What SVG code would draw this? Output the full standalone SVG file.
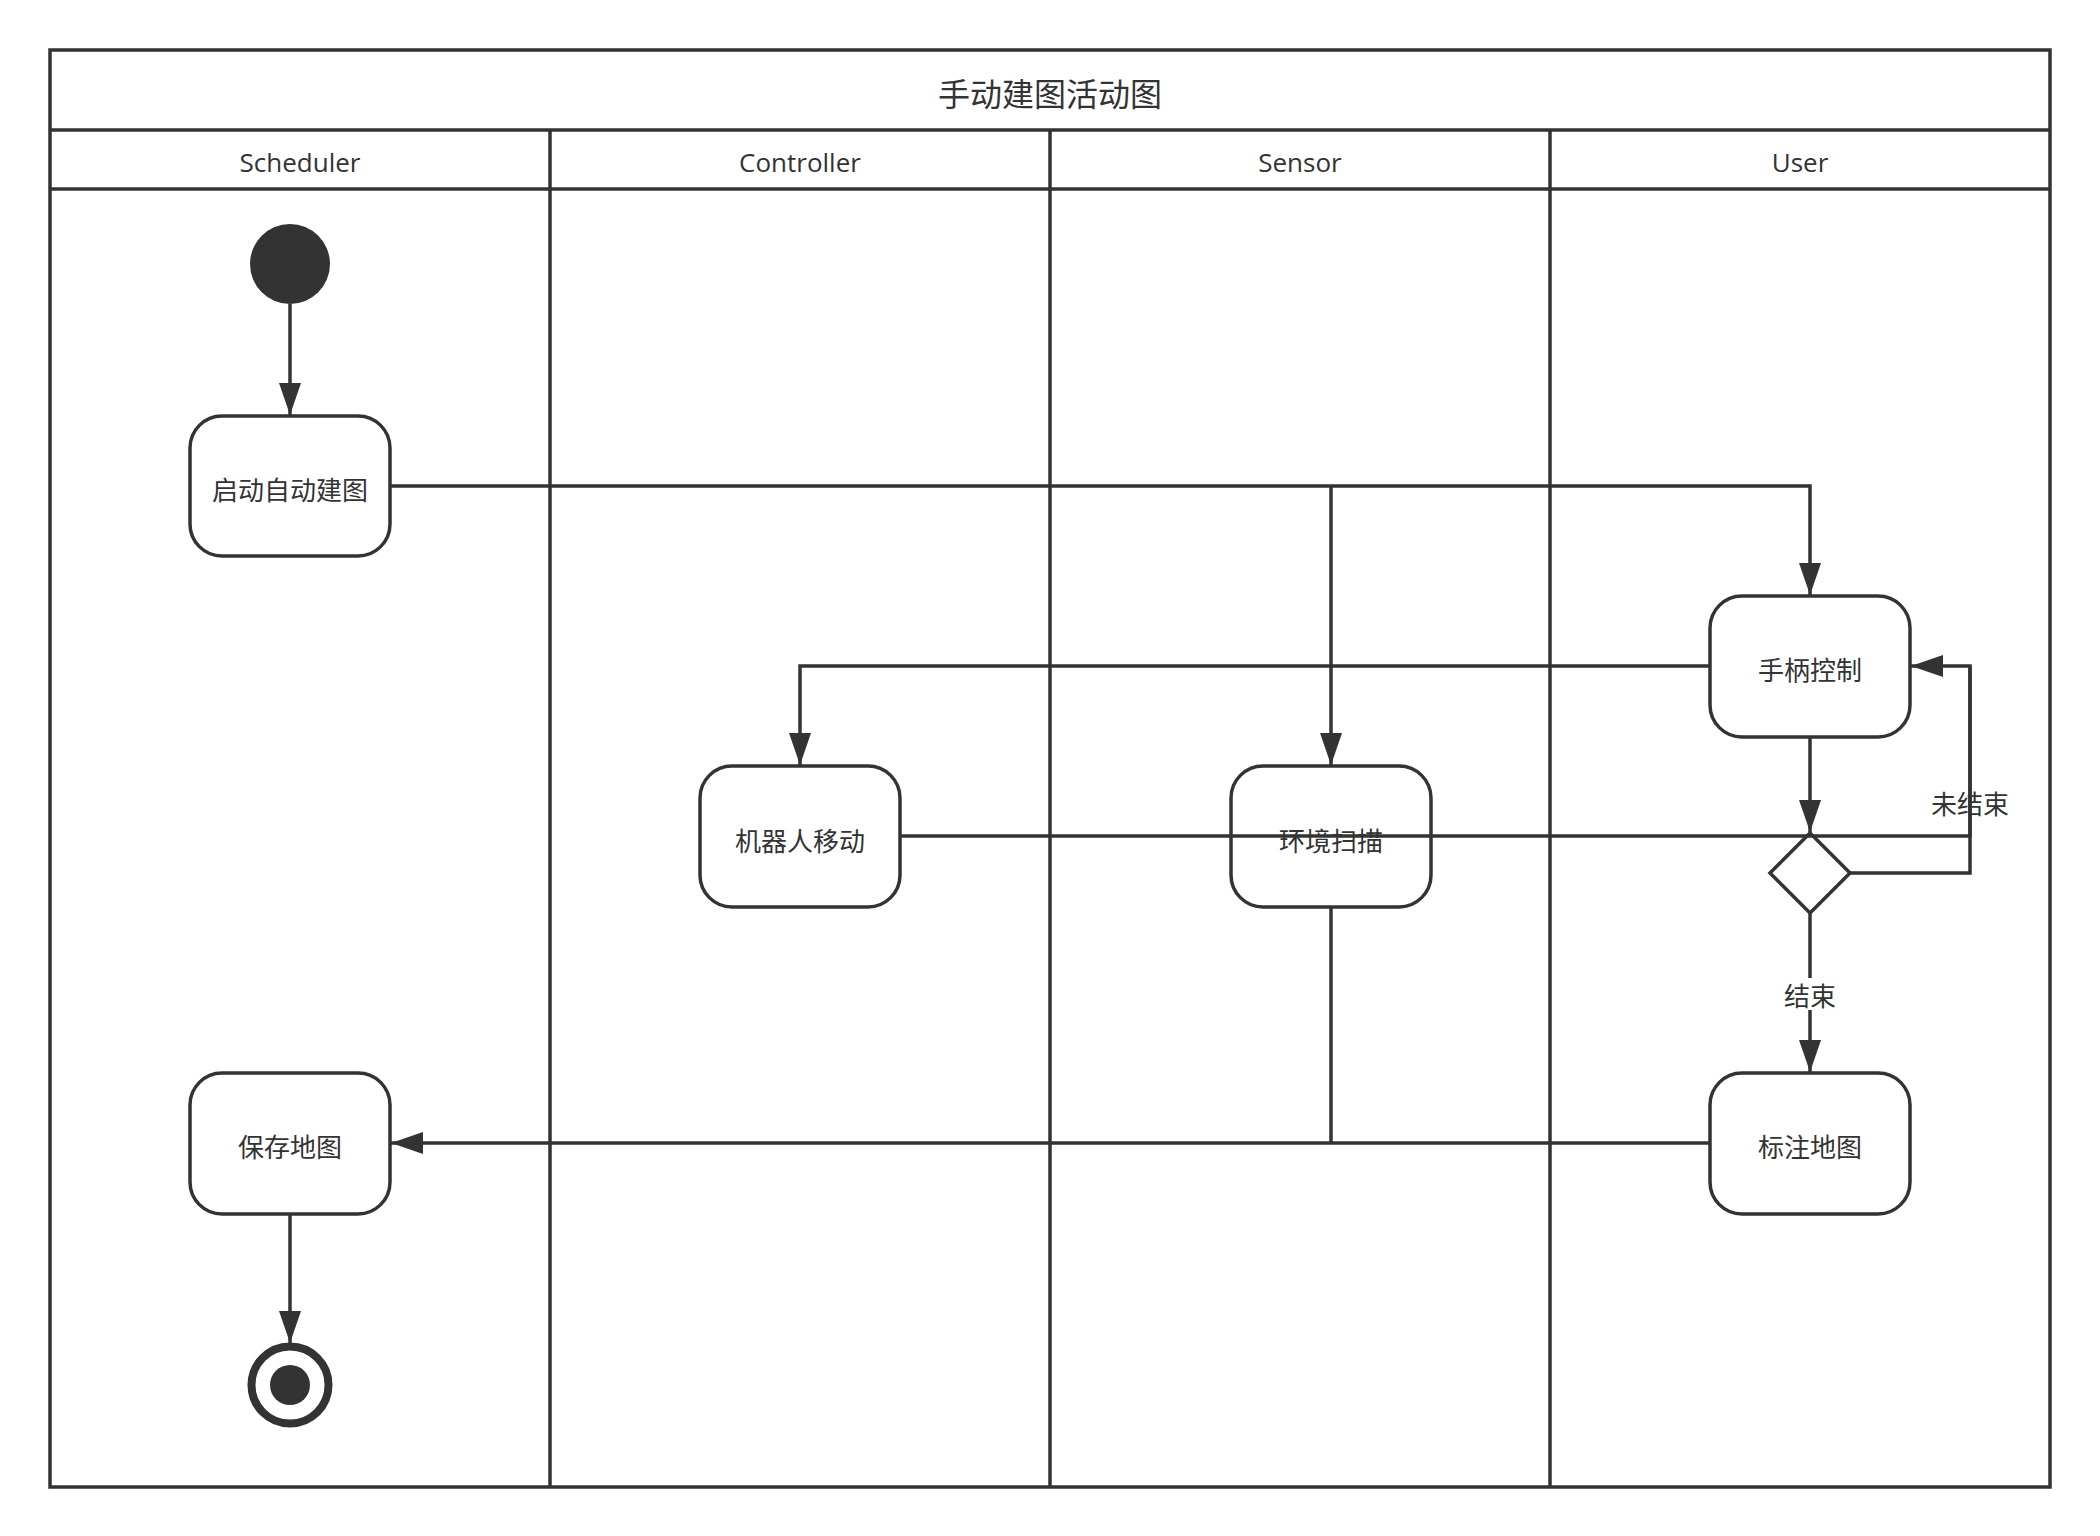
<svg xmlns="http://www.w3.org/2000/svg" width="2100" height="1536" viewBox="0 0 2100 1536">
<style>
.frame{fill:none;stroke:#333;stroke-width:3.5}
.lane{stroke:#333;stroke-width:3.5}
.node{fill:#fff;stroke:#333;stroke-width:3.5}
.conn{fill:none;stroke:#333;stroke-width:3.5}
.t{font-family:"Noto Sans CJK SC","Open Sans",sans-serif;font-size:26px;fill:#333;text-anchor:middle;dominant-baseline:central}
.h{font-family:"Open Sans","Noto Sans CJK SC",sans-serif;font-size:26px;fill:#333;text-anchor:middle}
.title{font-family:"Noto Sans CJK SC",sans-serif;font-size:32px;fill:#333;text-anchor:middle;dominant-baseline:central}
</style>
<defs>
<marker id="arr" viewBox="0 0 32 22" refX="32" refY="11" markerWidth="32" markerHeight="22" markerUnits="userSpaceOnUse" orient="auto">
<path d="M0,0 L32,11 L0,22 Z" fill="#333"/>
</marker>
</defs>
<rect width="2100" height="1536" fill="#fff"/>
<g id="pool">
<rect class="frame" x="50" y="50" width="2000" height="1437"/>
<line class="lane" x1="50" y1="130" x2="2050" y2="130"/>
<line class="lane" x1="50" y1="189" x2="2050" y2="189"/>
<line class="lane" x1="550" y1="130" x2="550" y2="1487"/>
<line class="lane" x1="1050" y1="130" x2="1050" y2="1487"/>
<line class="lane" x1="1550" y1="130" x2="1550" y2="1487"/>
<text class="title" x="1050" y="92">手动建图活动图</text>
<text class="h" x="300" y="172">Scheduler</text>
<text class="h" x="800" y="172">Controller</text>
<text class="h" x="1300" y="172">Sensor</text>
<text class="h" x="1800" y="172">User</text>
</g>
<g id="start"><circle cx="290" cy="264" r="40" fill="#333"/></g>
<g id="n1"><rect class="node" x="190" y="416" width="200" height="140" rx="32"/><text class="t" x="290" y="488">启动自动建图</text></g>
<g id="n2"><rect class="node" x="1710" y="596" width="200" height="141" rx="32"/><text class="t" x="1810" y="668">手柄控制</text></g>
<g id="n3"><rect class="node" x="700" y="766" width="200" height="141" rx="32"/><text class="t" x="800" y="839">机器人移动</text></g>
<g id="n4"><rect class="node" x="1231" y="766" width="200" height="141" rx="32"/><text class="t" x="1331" y="839">环境扫描</text></g>
<g id="dec"><polygon class="node" points="1810,833 1850,873 1810,913 1770,873"/></g>
<g id="n5"><rect class="node" x="1710" y="1073" width="200" height="141" rx="32"/><text class="t" x="1810" y="1145">标注地图</text></g>
<g id="n6"><rect class="node" x="190" y="1073" width="200" height="141" rx="32"/><text class="t" x="290" y="1145">保存地图</text></g>
<g id="end"><circle cx="290" cy="1385" r="38.5" fill="#fff" stroke="#333" stroke-width="8"/><circle cx="290" cy="1385" r="20" fill="#333"/></g>
<g id="connectors">
<path class="conn" d="M290,304 V415" marker-end="url(#arr)"/>
<path class="conn" d="M390,486 H1810 V595" marker-end="url(#arr)"/>
<path class="conn" d="M1331,486 V765" marker-end="url(#arr)"/>
<path class="conn" d="M1710,666 H800 V765" marker-end="url(#arr)"/>
<path class="conn" d="M1810,737 V832" marker-end="url(#arr)"/>
<path class="conn" d="M900,836 H1970 V666"/>
<path class="conn" d="M1850,873 H1970 V666 H1911" marker-end="url(#arr)"/>
<path class="conn" d="M1331,907 V1143"/>
<path class="conn" d="M1710,1143 H391" marker-end="url(#arr)"/>
<path class="conn" d="M1810,913 V1072" marker-end="url(#arr)"/>
<path class="conn" d="M290,1214 V1343" marker-end="url(#arr)"/>
<rect x="1782" y="978" width="56" height="32" fill="#fff"/>
<text class="t" x="1810" y="994">结束</text>
<text class="t" x="1970" y="802">未结束</text>
</g>
</svg>
